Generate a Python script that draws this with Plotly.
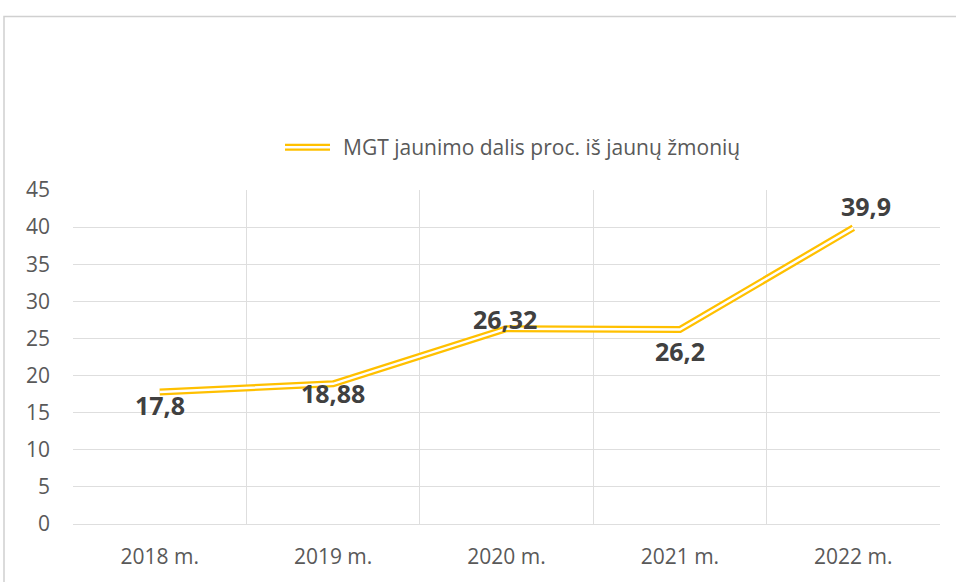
import plotly.graph_objects as go

# Youth share data
years = ["2018 m.", "2019 m.", "2020 m.", "2021 m.", "2022 m."]
values = [17.8, 18.88, 26.32, 26.2, 39.9]
labels = ["17,8", "18,88", "26,32", "26,2", "39,9"]
series_name = "MGT jaunimo dalis proc. iš jaunų žmonių"

# label placement (pixels) for each point: below / above the line
label_dy = [-13, -9, 10, -21, 22]
label_dx = [0, 0, -2, 0, 13]

W, H = 956, 582
L, R, T, B = 73, 16, 190, 53
PW, PH = W - L - R, H - T - B

YELLOW = "#FFC000"
GRID = "#DEDEDE"
TXT = "#595959"
FONT = "Open Sans"
OUTER_W, INNER_W = 7, 2.5


def px_x(p):
    return (p - L) / PW


def px_y(p):
    return (PH + T - p) / PH


fig = go.Figure()

# double (compound) line: wide yellow stroke with a thin white core
fig.add_trace(go.Scatter(
    x=years, y=values, mode="lines", name=series_name,
    line=dict(color=YELLOW, width=OUTER_W), showlegend=False,
))
fig.add_trace(go.Scatter(
    x=years, y=values, mode="lines", showlegend=False, hoverinfo="skip",
    line=dict(color="white", width=INNER_W),
))

for x, y, t, dy, dx in zip(years, values, labels, label_dy, label_dx):
    fig.add_annotation(
        x=x, y=y, text=t, showarrow=False, yshift=dy, xshift=dx,
        font=dict(family=FONT, size=25, color="#404040", weight="bold"),
    )

# legend key: same compound line style as the series
key_y = px_y(146.5)
for color, width in ((YELLOW, OUTER_W), ("white", INNER_W)):
    fig.add_shape(
        type="line", xref="paper", yref="paper",
        x0=px_x(285), x1=px_x(330), y0=key_y, y1=key_y,
        line=dict(color=color, width=width), layer="above",
    )
fig.add_annotation(
    xref="paper", yref="paper", x=px_x(341), y=key_y,
    xanchor="left", yanchor="middle", showarrow=False,
    text=series_name, font=dict(family=FONT, size=21, color=TXT),
)

# outer chart border
fig.add_shape(
    type="rect", xref="paper", yref="paper",
    x0=px_x(4), x1=1.2, y0=-0.5, y1=px_y(14),
    line=dict(color="#D0D0D0", width=1.5), fillcolor="rgba(0,0,0,0)",
    layer="below",
)

fig.update_layout(
    width=W, height=H,
    margin=dict(l=L, r=R, t=T, b=B),
    paper_bgcolor="white", plot_bgcolor="white",
    font=dict(family=FONT, color=TXT, size=21),
    showlegend=False,
    xaxis=dict(
        type="category", range=[-0.5, 4.5], tickson="boundaries",
        showgrid=True, gridcolor=GRID, gridwidth=1, showline=True,
        linecolor=GRID, linewidth=1, ticks="",
        tickfont=dict(size=21, color=TXT), ticklabelstandoff=14,
    ),
    yaxis=dict(
        range=[0, 45], dtick=5, showgrid=True, gridcolor=GRID,
        gridwidth=1, zeroline=False, showline=False, ticks="",
        tickfont=dict(size=21, color=TXT), ticklabelstandoff=22,
    ),
)

fig.write_html("out.html")
